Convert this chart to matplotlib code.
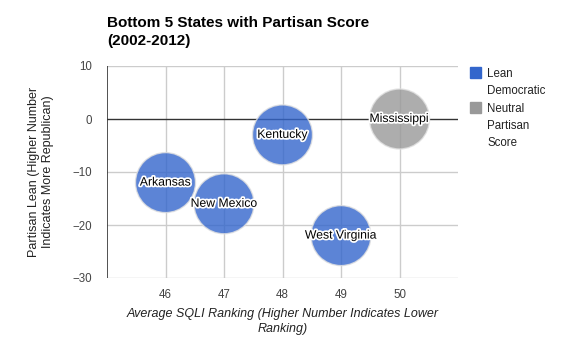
import matplotlib
matplotlib.use("Agg")
import matplotlib.pyplot as plt
import matplotlib.patheffects as pe
from matplotlib.patches import Rectangle

# donnees
states = ["Arkansas", "New Mexico", "Kentucky", "West Virginia", "Mississippi"]
sqli_rank = [46, 47, 48, 49, 50]
partisan_lean = [-12, -16, -3, -22, 0]
groups = ["Lean Democratic", "Lean Democratic", "Lean Democratic",
          "Lean Democratic", "Neutral Partisan Score"]

legend_labels = ["Lean\nDemocratic", "Neutral\nPartisan\nScore"]
group_names = ["Lean Democratic", "Neutral Partisan Score"]
group_colors = ["#3366cc", "#999999"]

x_ticks = [46, 47, 48, 49, 50]
y_ticks = [10, 0, -10, -20, -30]

plt.rcParams["font.family"] = ["Liberation Sans", "DejaVu Sans"]

fig = plt.figure(figsize=(5.65, 3.45), dpi=100)
ax = fig.add_axes([107 / 565, 1 - 278 / 345, 351 / 565, 212 / 345])

# grille
for x in x_ticks:
    ax.axvline(x, color="#cccccc", lw=1, zorder=0)
for y in y_ticks:
    if y != 0:
        ax.axhline(y, color="#cccccc", lw=1, zorder=0)
ax.axhline(0, color="#333333", lw=1, zorder=1)
ax.axvline(45, color="#333333", lw=1.2, zorder=1)

color_of = dict(zip(group_names, group_colors))
cols = [color_of[g] for g in groups]
ax.scatter(sqli_rank, partisan_lean, s=1866, c=cols, alpha=0.8,
           edgecolors="#e0e0e0", linewidths=1, zorder=2)

for name, x, y in zip(states, sqli_rank, partisan_lean):
    ax.text(x, y, name, ha="center", va="center", fontsize=8.8, color="black",
            zorder=3,
            path_effects=[pe.withStroke(linewidth=2.5, foreground="white")])

ax.set_xlim(45, 51)
ax.set_ylim(-30, 10)
ax.set_xticks(x_ticks)
ax.set_yticks(y_ticks)
ax.tick_params(length=0, labelsize=8.3, labelcolor="#444444")
ax.tick_params(axis="x", pad=8)
ax.tick_params(axis="y", pad=11)
for s in ax.spines.values():
    s.set_visible(False)

ax.set_xlabel("Average SQLI Ranking (Higher Number Indicates Lower\nRanking)",
              fontsize=9, style="italic", color="#222222", labelpad=5,
              linespacing=1.35)
ax.set_ylabel("Partisan Lean (Higher Number\nIndicates More Republican)",
              fontsize=9, color="#222222", labelpad=13, linespacing=1.2)

fig.text(107 / 565, 1 - 16 / 345, "Bottom 5 States with Partisan Score\n(2002-2012)",
         fontsize=11, fontweight="bold", ha="left", va="top", linespacing=1.4)

# legende manuelle
leg_y = [67, 102]
for lab, c, y in zip(legend_labels, group_colors, leg_y):
    fig.patches.append(Rectangle((470 / 565, 1 - (y + 11) / 345), 11 / 565, 11 / 345,
                                 transform=fig.transFigure, color=c, figure=fig))
    fig.text(487 / 565, 1 - (y + 1) / 345, lab, fontsize=8.3, color="#222222",
             ha="left", va="top", linespacing=1.55)

fig.savefig("out.png", dpi=100)
